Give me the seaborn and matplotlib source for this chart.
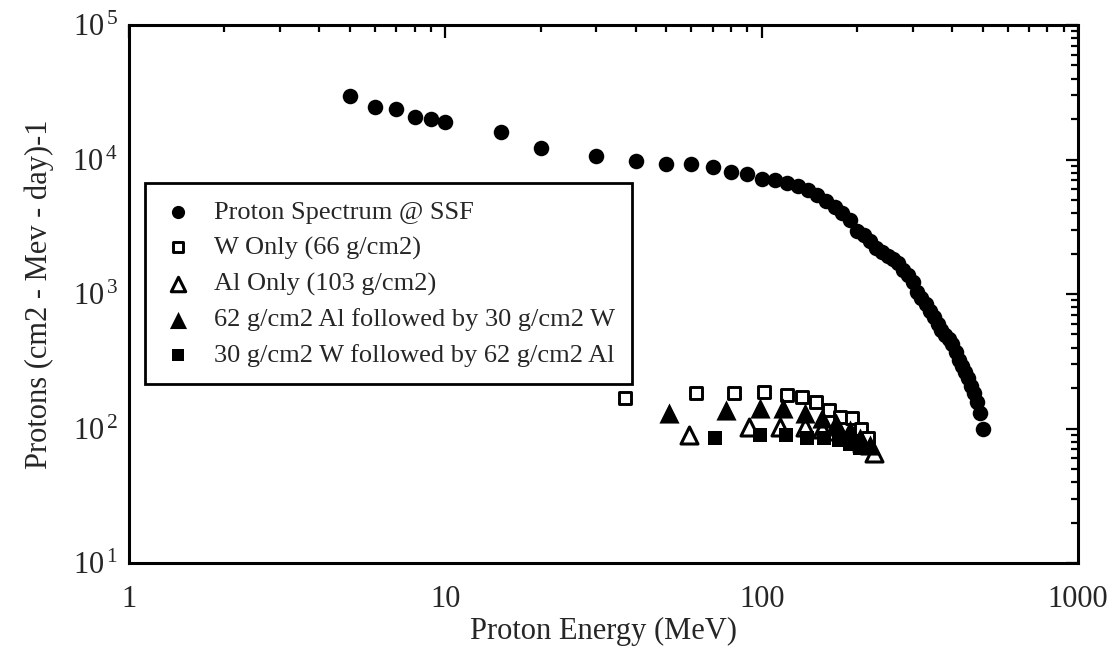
import matplotlib
matplotlib.use("Agg")
import matplotlib.pyplot as plt
import seaborn as sns
import numpy as np
from matplotlib.ticker import LogLocator, NullFormatter, FixedLocator, FixedFormatter

# ---------------- data ----------------
proton_energy = [5, 6, 7, 8, 9, 10, 15, 20,
                 30, 40, 50, 60, 70, 80, 90, 100, 110, 120,
                 130, 140, 150, 160, 170, 180, 190, 200, 210, 220,
                 230, 240, 250, 260, 270, 280, 290, 300, 310, 320,
                 330, 340, 350, 360, 370, 380, 390, 400, 410, 420,
                 430, 440, 450, 460, 470, 480, 490, 500]
proton_flux = [29600, 24700, 23700, 20800, 20000, 19100, 16000, 12200,
               10600, 9800, 9270, 9200, 8840, 8120, 7800, 7120, 7050, 6730,
               6300, 5980, 5450, 4910, 4430, 4000, 3550, 2940, 2750, 2480,
               2200, 2050, 1920, 1810, 1700, 1510, 1380, 1230, 1035, 933,
               843, 748, 675, 598, 540, 495, 462, 425, 370, 323,
               292, 263, 237, 207, 184, 157, 130, 99]

w_only_energy = [37, 62, 82, 102, 120, 134, 149, 163, 177, 193, 206, 217]
w_only_flux = [168, 185, 185, 188, 177, 171, 158, 137, 122, 119, 100, 85]

al_only_energy = [59, 91, 114, 137, 155, 172, 190, 207, 226]
al_only_flux = [90, 103, 103, 103, 100, 95, 88, 78, 66]

al_then_w_energy = [51, 77, 99, 117, 137, 155, 172, 190, 205, 220]
al_then_w_flux = [131, 137, 141, 141, 130, 120, 110, 97, 85, 75]

w_then_al_energy = [71, 99, 119, 139, 157, 175, 190, 205]
w_then_al_flux = [85, 90, 90, 85, 85, 82, 77, 72]

labels = ["Proton Spectrum @ SSF",
          "W Only (66 g/cm2)",
          "Al Only (103 g/cm2)",
          "62 g/cm2 Al followed by 30 g/cm2 W",
          "30 g/cm2 W followed by 62 g/cm2 Al"]

x_ticks = [1, 10, 100, 1000]
x_tick_labels = ["1", "10", "100", "1000"]
y_ticks = [1e1, 1e2, 1e3, 1e4, 1e5]
y_tick_labels = [r"$10^{\,1}$", r"$10^{\,2}$", r"$10^{\,3}$", r"$10^{\,4}$", r"$10^{\,5}$"]

# ---------------- style ----------------
sns.set_theme(style="white")
plt.rcParams["font.family"] = ["Liberation Serif", "DejaVu Serif"]
plt.rcParams["mathtext.fontset"] = "custom"
plt.rcParams["mathtext.rm"] = "Liberation Serif"
plt.rcParams["mathtext.it"] = "Liberation Serif:italic"

fig = plt.figure(figsize=(11.17, 6.52), dpi=100)
ax = fig.add_axes([129 / 1117, 1 - 563 / 652, 949 / 1117, 538 / 652])

sns.scatterplot(x=proton_energy, y=proton_flux, ax=ax, marker="o", s=125,
                color="black", edgecolor="black", linewidth=0, label=labels[0], zorder=3)
sns.scatterplot(x=w_only_energy, y=w_only_flux, ax=ax, marker="s", s=68,
                facecolor="white", edgecolor="black", linewidth=2.1, label=labels[1], zorder=3)
sns.scatterplot(x=al_only_energy, y=al_only_flux, ax=ax, marker="^", s=150,
                facecolor="white", edgecolor="black", linewidth=2.2, label=labels[2], zorder=3)
sns.scatterplot(x=al_then_w_energy, y=al_then_w_flux, ax=ax, marker="^", s=210,
                color="black", edgecolor="black", linewidth=0, label=labels[3], zorder=3)
sns.scatterplot(x=w_then_al_energy, y=w_then_al_flux, ax=ax, marker="s", s=95,
                color="black", edgecolor="black", linewidth=0, label=labels[4], zorder=3)

ax.set_xscale("log")
ax.set_yscale("log")
ax.set_xlim(1, 1000)
ax.set_ylim(10, 1e5)

ax.xaxis.set_major_locator(FixedLocator(x_ticks))
ax.xaxis.set_major_formatter(FixedFormatter(x_tick_labels))
ax.yaxis.set_major_locator(FixedLocator(y_ticks))
ax.yaxis.set_major_formatter(FixedFormatter(y_tick_labels))
ax.xaxis.set_minor_locator(LogLocator(base=10, subs=np.arange(2, 10), numticks=20))
ax.yaxis.set_minor_locator(LogLocator(base=10, subs=np.arange(2, 10), numticks=20))
ax.xaxis.set_minor_formatter(NullFormatter())
ax.yaxis.set_minor_formatter(NullFormatter())

ax.tick_params(which="both", direction="in", top=True, right=True,
               color="black", width=1.6)
ax.tick_params(which="major", length=9)
ax.tick_params(which="minor", length=5)
ax.tick_params(axis="x", which="major", labelsize=22, pad=16)
ax.tick_params(axis="y", which="major", labelsize=22, pad=8)

for sp in ax.spines.values():
    sp.set_color("black")
    sp.set_linewidth(2.2)

ax.set_xlabel("Proton Energy (MeV)", fontsize=22, labelpad=2)
ax.set_ylabel("Protons (cm2 - Mev - day)-1", fontsize=22, labelpad=13)

leg = ax.legend(loc="upper left", bbox_to_anchor=(0.017, 0.706), borderaxespad=0,
                fontsize=19, frameon=True, fancybox=False, framealpha=1,
                edgecolor="black", handletextpad=0.75, labelspacing=0.46,
                borderpad=0.65, markerscale=0.85, handlelength=1.2)
leg.get_frame().set_linewidth(2.0)

fig.savefig("out.png", dpi=100, facecolor="white")
